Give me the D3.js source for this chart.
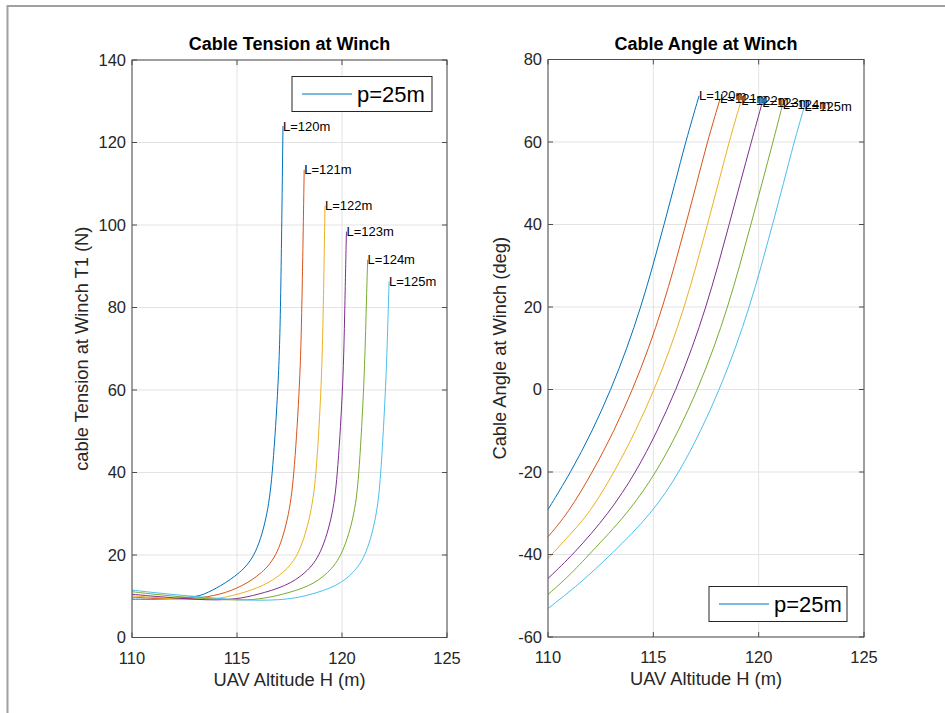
<!DOCTYPE html>
<html>
<head>
<meta charset="utf-8">
<script src="https://cdn.jsdelivr.net/npm/d3@7"></script>
<style>
  body { margin: 0; background: #fff; }
  text { font-family: "Liberation Sans", Arial, sans-serif; }
</style>
</head>
<body>
<div class="graphic"></div>
<script>
// cable lengths, one curve each
const cableLengths = [120, 121, 122, 123, 124, 125];
const lineColors = ['#0072BD', '#D95319', '#EDB120', '#7E2F8E', '#77AC30', '#4DBEEE'];

// tension at winch [H (m), T1 (N)]
const tension120 = [[110,9.3],[111,9.25],[112,9.4],[113,9.9],[113.4,10.35],[114.2,12.4],[115.15,15.6],[115.92,20],[116.47,30],[116.7,40],[116.98,62],[117.08,79],[117.19,124]];
const tension121 = [[110,9.8],[111,9.5],[112,9.3],[113,9.4],[114.2,10.35],[115.25,12.4],[116.2,15.6],[116.95,20],[117.5,30],[117.73,40],[118.0,62],[118.09,79],[118.2,113.4]];
const tension122 = [[110,10.1],[111,9.7],[112,9.35],[113,9.15],[114,9.3],[115.0,10.35],[116.25,12.4],[117.22,15.6],[117.97,20],[118.54,30],[118.79,40],[119.03,62],[119.11,79],[119.19,104.7]];
const tension123 = [[110,10.5],[111,10],[112,9.6],[113,9.25],[114,9.05],[115,9.3],[115.94,10.35],[117.33,12.4],[118.28,15.6],[119.0,20],[119.58,30],[119.8,40],[120.06,62],[120.13,79],[120.21,98.4]];
const tension124 = [[110,11.1],[111,10.5],[112,10],[113,9.6],[114,9.25],[115,9.05],[116,9.2],[117.13,10.35],[118.48,12.4],[119.35,15.6],[120.03,20],[120.62,30],[120.82,40],[121.06,62],[121.15,79],[121.22,91.6]];
const tension125 = [[110,11.5],[111,10.9],[112,10.4],[113,9.95],[114,9.5],[115,9.15],[116,9.0],[117,9.1],[117.8,9.6],[118.48,10.35],[119.75,12.4],[120.55,15.6],[121.17,20],[121.68,30],[121.86,40],[122.1,62],[122.2,79],[122.24,86.3]];

// cable angle at winch [H (m), angle (deg)]
const angle120 = [[110,-29.1],[111.09,-20],[112.11,-10],[112.99,0],[113.75,10],[114.41,20],[114.98,30],[115.51,40],[116.03,50],[116.53,60],[117.17,71.2]];
const angle121 = [[110,-35.7],[110.95,-30],[112.12,-20],[113.14,-10],[114.02,0],[114.78,10],[115.44,20],[116.01,30],[116.54,40],[117.06,50],[117.56,60],[118.17,70.5]];
const angle122 = [[110,-41],[111.0,-35.4],[111.97,-30],[113.15,-20],[114.17,-10],[115.05,0],[115.81,10],[116.47,20],[117.04,30],[117.57,40],[118.09,50],[118.59,60],[119.17,70.1]];
const angle123 = [[110,-45.8],[111.2,-40],[112.9,-30],[114.18,-20],[115.2,-10],[116.08,0],[116.84,10],[117.5,20],[118.07,30],[118.6,40],[119.12,50],[119.65,60],[120.17,69.6]];
const angle124 = [[110,-49.7],[111.0,-45.2],[111.95,-40],[113.8,-30],[115.15,-20],[116.2,-10],[117.1,0],[117.87,10],[118.53,20],[119.1,30],[119.63,40],[120.16,50],[120.68,60],[121.14,69.2]];
const angle125 = [[110,-53.1],[111.5,-47.1],[113.0,-40],[114.95,-30],[116.24,-20],[117.26,-10],[118.14,0],[118.9,10],[119.56,20],[120.13,30],[120.66,40],[121.18,50],[121.68,60],[122.17,68.6]];

const tensionSeries = [tension120, tension121, tension122, tension123, tension124, tension125];
const angleSeries = [angle120, angle121, angle122, angle123, angle124, angle125];

const xTicks = [110, 115, 120, 125];
const tensionTicks = [0, 20, 40, 60, 80, 100, 120, 140];
const angleTicks = [-60, -40, -20, 0, 20, 40, 60, 80];
const legendLabel = 'p=25m';

const svg = d3.select('.graphic')
  .append('svg')
  .attr('width', 945)
  .attr('height', 713);

// figure frame (top and left edges)
svg.append('path')
  .attr('d', 'M7.5,713 L7.5,6 L945,6')
  .attr('fill', 'none')
  .attr('stroke', '#a0a0a0')
  .attr('stroke-width', 2);

const drawPanel = opt => {
  const x = d3.scaleLinear().domain([110, 125]).range([opt.left, opt.right]);
  const y = d3.scaleLinear().domain(opt.yDomain).range([opt.bottom, opt.top]);
  const g = svg.append('g');

  // grid
  g.selectAll('line.gx').data(xTicks).enter().append('line')
    .attr('x1', d => x(d)).attr('x2', d => x(d))
    .attr('y1', opt.top).attr('y2', opt.bottom)
    .attr('stroke', '#e3e3e3').attr('stroke-width', 1);
  g.selectAll('line.gy').data(opt.yTicks).enter().append('line')
    .attr('x1', opt.left).attr('x2', opt.right)
    .attr('y1', d => y(d)).attr('y2', d => y(d))
    .attr('stroke', '#e3e3e3').attr('stroke-width', 1);

  // curves
  const line = d3.line()
    .x(d => x(d[0]))
    .y(d => y(d[1]))
    .curve(d3.curveBasis);
  g.selectAll('path.curve').data(opt.series).enter().append('path')
    .attr('class', 'curve')
    .attr('d', line)
    .attr('fill', 'none')
    .attr('stroke', (d, i) => lineColors[i])
    .attr('stroke-width', 1);

  // labels at curve ends
  g.selectAll('text.end-label').data(opt.series).enter().append('text')
    .attr('class', 'end-label')
    .attr('x', d => x(d[d.length - 1][0]))
    .attr('y', d => y(d[d.length - 1][1]))
    .attr('dy', '0.35em')
    .attr('font-size', 13)
    .attr('fill', '#000')
    .text((d, i) => 'L=' + cableLengths[i] + 'm');

  // box
  g.append('rect')
    .attr('x', opt.left).attr('y', opt.top)
    .attr('width', opt.right - opt.left).attr('height', opt.bottom - opt.top)
    .attr('fill', 'none').attr('stroke', '#4d4d4d').attr('stroke-width', 1);

  // inward ticks on all sides
  const tl = 5;
  g.selectAll('line.tx').data(xTicks).enter().append('line')
    .attr('x1', d => x(d)).attr('x2', d => x(d))
    .attr('y1', opt.bottom).attr('y2', opt.bottom - tl)
    .attr('stroke', '#4d4d4d');
  g.selectAll('line.tx2').data(xTicks).enter().append('line')
    .attr('x1', d => x(d)).attr('x2', d => x(d))
    .attr('y1', opt.top).attr('y2', opt.top + tl)
    .attr('stroke', '#4d4d4d');
  g.selectAll('line.ty').data(opt.yTicks).enter().append('line')
    .attr('x1', opt.left).attr('x2', opt.left + tl)
    .attr('y1', d => y(d)).attr('y2', d => y(d))
    .attr('stroke', '#4d4d4d');
  g.selectAll('line.ty2').data(opt.yTicks).enter().append('line')
    .attr('x1', opt.right).attr('x2', opt.right - tl)
    .attr('y1', d => y(d)).attr('y2', d => y(d))
    .attr('stroke', '#4d4d4d');

  // tick labels
  g.selectAll('text.xl').data(xTicks).enter().append('text')
    .attr('x', d => x(d)).attr('y', opt.bottom + 26)
    .attr('text-anchor', 'middle')
    .attr('font-size', 16.5).attr('fill', '#262626')
    .text(d => d);
  g.selectAll('text.yl').data(opt.yTicks).enter().append('text')
    .attr('x', opt.left - 6).attr('y', d => y(d))
    .attr('dy', '0.35em')
    .attr('text-anchor', 'end')
    .attr('font-size', 16.5).attr('fill', '#262626')
    .text(d => d);

  // title and axis labels
  g.append('text')
    .attr('x', (opt.left + opt.right) / 2).attr('y', 50)
    .attr('text-anchor', 'middle')
    .attr('font-size', 18).attr('font-weight', 'bold').attr('fill', '#000')
    .text(opt.title);
  g.append('text')
    .attr('x', (opt.left + opt.right) / 2).attr('y', opt.bottom + 48)
    .attr('text-anchor', 'middle')
    .attr('font-size', 18.3).attr('fill', '#262626')
    .text('UAV Altitude H (m)');
  g.append('text')
    .attr('transform', `translate(${opt.ylabelX},${(opt.top + opt.bottom) / 2}) rotate(-90)`)
    .attr('text-anchor', 'middle')
    .attr('font-size', 18.3).attr('fill', '#262626')
    .text(opt.ylabel);

  // legend
  const lg = g.append('g').attr('transform', `translate(${opt.legend[0]},${opt.legend[1]})`);
  lg.append('rect')
    .attr('width', opt.legend[2]).attr('height', 35)
    .attr('fill', '#fff').attr('stroke', '#262626').attr('stroke-width', 1);
  lg.append('line')
    .attr('x1', 10).attr('x2', 60).attr('y1', 17.5).attr('y2', 17.5)
    .attr('stroke', lineColors[0]).attr('stroke-width', 1);
  lg.append('text')
    .attr('x', 65).attr('y', 17.5).attr('dy', '0.35em')
    .attr('font-size', 22).attr('fill', '#000')
    .text(legendLabel);
};

drawPanel({
  left: 132, right: 447, top: 60, bottom: 637.5,
  yDomain: [0, 140], yTicks: tensionTicks,
  title: 'Cable Tension at Winch',
  ylabel: 'cable Tension at Winch T1 (N)', ylabelX: 88,
  series: tensionSeries,
  legend: [292, 76.5, 140]
});

drawPanel({
  left: 548, right: 864, top: 59.5, bottom: 637,
  yDomain: [-60, 80], yTicks: angleTicks,
  title: 'Cable Angle at Winch',
  ylabel: 'Cable Angle at Winch (deg)', ylabelX: 506,
  series: angleSeries,
  legend: [709, 586.5, 138]
});
</script>
</body>
</html>
